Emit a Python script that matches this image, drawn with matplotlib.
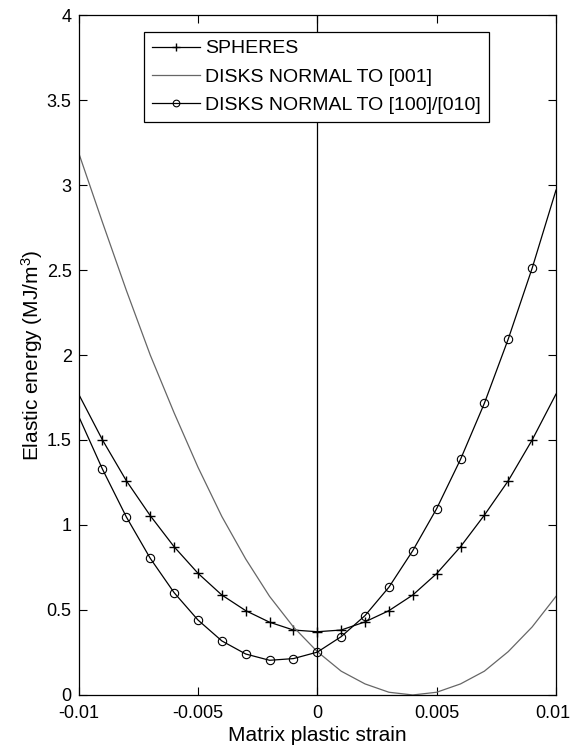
import numpy as np
import matplotlib
matplotlib.use('Agg')
import matplotlib.pyplot as plt
import matplotlib.transforms as mtransforms

plt.rcParams['font.family'] = ['Liberation Sans', 'DejaVu Sans']
plt.rcParams['mathtext.fontset'] = 'custom'
plt.rcParams['mathtext.rm'] = 'Liberation Sans'
plt.rcParams['mathtext.it'] = 'Liberation Sans'

# strain values, step 0.001
strain = [-0.010, -0.009, -0.008, -0.007, -0.006, -0.005, -0.004, -0.003, -0.002, -0.001, 0.0,
          0.001, 0.002, 0.003, 0.004, 0.005, 0.006, 0.007, 0.008, 0.009, 0.010]

spheres = [1.77, 1.50, 1.26, 1.055, 0.872, 0.716, 0.588, 0.496, 0.428, 0.382, 0.372,
           0.382, 0.430, 0.496, 0.588, 0.714, 0.872, 1.058, 1.26, 1.50, 1.77]

disks_001 = [3.19, 2.78, 2.38, 2.00, 1.66, 1.34, 1.05, 0.80, 0.58, 0.40, 0.255,
             0.14, 0.065, 0.016, 0.0, 0.016, 0.065, 0.14, 0.255, 0.40, 0.58]

disks_100 = [1.64, 1.328, 1.047, 0.804, 0.602, 0.441, 0.318, 0.241, 0.204, 0.214, 0.252,
             0.343, 0.467, 0.634, 0.849, 1.096, 1.386, 1.716, 2.094, 2.51, 2.97]

fig = plt.figure(figsize=(5.71, 7.48), dpi=100)
ax = fig.add_axes([0.1377, 0.0709, 0.836, 0.909])

marks = list(range(1, 20))
ax.plot(strain, spheres, color='black', lw=0.9, marker='+', ms=7, mew=1.0,
        markevery=marks, label='SPHERES')
ax.plot(strain, disks_001, color='#666666', lw=0.9, label='DISKS NORMAL TO [001]')
ax.plot(strain, disks_100, color='black', lw=0.9, marker='o', ms=6, mew=0.8,
        mfc='none', markevery=marks, label='DISKS NORMAL TO [100]/[010]')
ax.axvline(0, color='black', lw=0.9)

ax.set_xlim(-0.01, 0.01)
ax.set_ylim(0, 4)
ax.set_xticks([-0.01, -0.005, 0, 0.005, 0.01])
ax.set_xticklabels(['-0.01', '-0.005', '0', '0.005', '0.01'])
ax.set_yticks([0, 0.5, 1, 1.5, 2, 2.5, 3, 3.5, 4])
ax.set_yticklabels(['0', '0.5', '1', '1.5', '2', '2.5', '3', '3.5', '4'])
ax.tick_params(direction='in', top=True, right=True, length=6, labelsize=13)
ax.tick_params(axis='x', pad=7)
ax.tick_params(axis='y', pad=5)
for s in ax.spines.values():
    s.set_linewidth(0.9)

# last x label sits at the figure edge, nudge it in a bit
last = ax.get_xticklabels()[-1]
last.set_transform(last.get_transform() + mtransforms.ScaledTranslation(-3 / 100, 0, fig.dpi_scale_trans))

ax.set_xlabel('Matrix plastic strain', fontsize=15, labelpad=3)
ax.set_ylabel('Elastic energy (MJ/m$^3$)', fontsize=15, labelpad=1)

leg = ax.legend(loc='upper left', bbox_to_anchor=(0.137, 0.975), borderaxespad=0,
                fancybox=False, edgecolor='black', framealpha=1, fontsize=14,
                handlelength=2.5, labelspacing=0.55, borderpad=0.4, handletextpad=0.25,
                markerscale=0.8)
leg.get_frame().set_linewidth(0.9)

fig.savefig('out.png', dpi=100)
